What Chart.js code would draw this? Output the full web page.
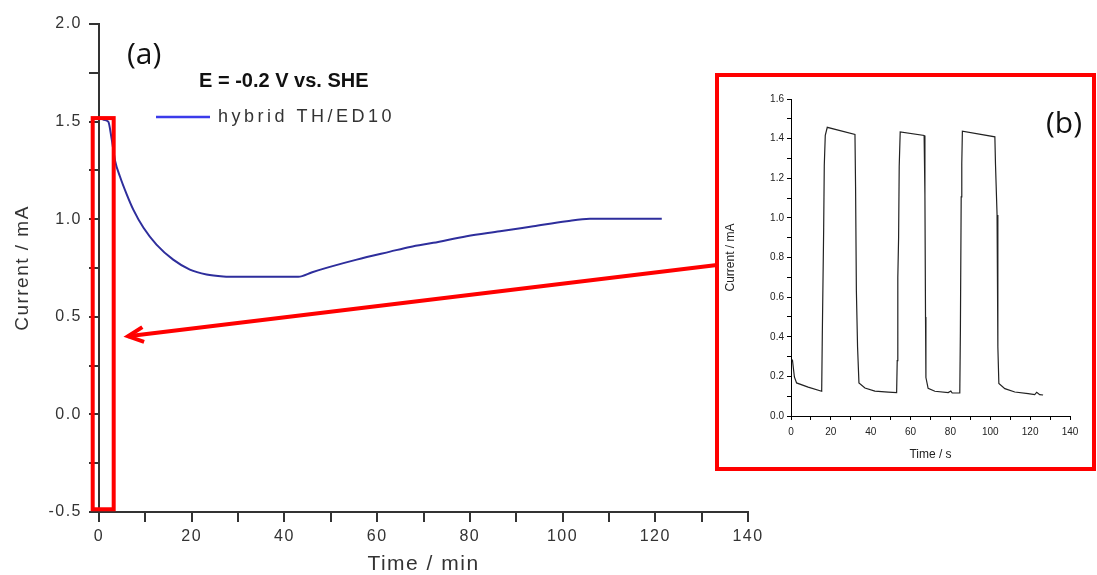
<!DOCTYPE html>
<html>
<head>
<meta charset="utf-8">
<script src="https://cdn.jsdelivr.net/npm/chart.js@4.4.1/dist/chart.umd.min.js"></script>
<style>
body { margin: 0; background: #fff; }
#wrap { position: relative; width: 1097px; height: 575px; overflow: hidden; }
#main { position: absolute; left: 0; top: 0; }
#insetBox { position: absolute; left: 715px; top: 73px; width: 373px; height: 390px; border: 4px solid #ff0000; background: #fff; }
#inset { display: block; }
</style>
</head>
<body>
<div id="wrap">
  <canvas id="main" width="1097" height="575"></canvas>
  <div id="insetBox"><canvas id="inset" width="373" height="390"></canvas></div>
</div>
<script>
// main curve (a): time in min, current in mA
const mainTime = [0.8, 2.0, 2.7, 3.5, 4.5, 6.0, 7.4, 9.6, 12.4, 16.0, 19.6, 23.2, 26.8, 30.0, 36.0, 43.0, 46.0, 50.0, 55.6, 62.8, 67.1, 72.1, 79.3, 86.5, 93.7, 100.9, 105.9, 121.4];
const mainCurrent = [1.51, 1.50, 1.416, 1.296, 1.22, 1.126, 1.049, 0.956, 0.87, 0.793, 0.742, 0.717, 0.707, 0.705, 0.705, 0.705, 0.728, 0.757, 0.793, 0.834, 0.858, 0.879, 0.913, 0.938, 0.964, 0.99, 1.002, 1.002];
const mainXLabels = [0, 20, 40, 60, 80, 100, 120, 140];
const mainYLabels = [-0.5, 0.0, 0.5, 1.0, 1.5, 2.0];

// inset (b): time in s, current in mA
const insetTime = [0.7, 1.7, 2.8, 8.6, 15.4, 15.7, 16.4, 16.7, 17.2, 18.2, 32.1, 32.4, 32.8, 33.4, 34.1, 37.1, 42.1, 48.8, 53.0, 53.3, 53.6, 54.0, 54.3, 54.8, 66.8, 67.2, 67.5, 67.7, 68.8, 72.2, 78.9, 80.2, 80.9, 84.7, 85.0, 85.4, 85.7, 86.0, 102.3, 102.6, 103.4, 103.8, 104.3, 107.3, 112.3, 119.0, 122.3, 123.3, 124.8, 126.5];
const insetCurrent = [0.285, 0.197, 0.167, 0.146, 0.125, 0.40, 0.95, 1.266, 1.417, 1.457, 1.421, 1.157, 0.635, 0.348, 0.167, 0.141, 0.126, 0.121, 0.118, 0.28, 0.70, 0.904, 1.26, 1.434, 1.416, 1.115, 0.50, 0.194, 0.14, 0.125, 0.118, 0.126, 0.116, 0.116, 0.43, 1.106, 1.275, 1.438, 1.409, 1.275, 1.014, 0.35, 0.164, 0.138, 0.121, 0.113, 0.108, 0.12, 0.108, 0.106];
const insetXLabels = [0, 20, 40, 60, 80, 100, 120, 140];
const insetYLabels = [0.0, 0.2, 0.4, 0.6, 0.8, 1.0, 1.2, 1.4, 1.6];

const condition = 'E = -0.2 V vs. SHE';
const seriesName = 'hybrid TH/ED10';
const fam = "'Liberation Sans', Arial, sans-serif";

Chart.defaults.font.family = fam;

function nearIn(list, v) {
    return list.some(a => Math.abs(a - v) < 1e-6);
}

// wide letter spacing like the scanned figure
const spacing = {
    id: 'spacing',
    beforeDraw(chart, args, opts) {
        chart.ctx.letterSpacing = opts.px || '0px';
    }
};

// texts, legend, red box and arrow of panel (a)
const mainNotes = {
    id: 'mainNotes',
    afterDraw(chart) {
        const {ctx, scales: {x, y}} = chart;
        ctx.save();
        ctx.textAlign = 'left';
        ctx.textBaseline = 'middle';
        ctx.letterSpacing = '0px';
        ctx.fillStyle = '#111';
        ctx.font = "30px 'Open Sans'";
        ctx.fillText('(a)', 127, 55);
        ctx.font = 'bold 20px ' + fam;
        ctx.fillText(condition, 199, 81);

        // legend
        const ds = chart.data.datasets[0];
        ctx.strokeStyle = '#3b3bea';
        ctx.lineWidth = 2.5;
        ctx.beginPath();
        ctx.moveTo(156, 117);
        ctx.lineTo(210, 117);
        ctx.stroke();
        ctx.letterSpacing = '3.5px';
        ctx.font = '18px ' + fam;
        ctx.fillStyle = '#333';
        ctx.fillText(ds.label, 218, 117);

        // red box round the first minutes
        ctx.strokeStyle = '#ff0000';
        ctx.lineWidth = 4;
        const bx0 = x.getPixelForValue(-1.36), bx1 = x.getPixelForValue(3.17);
        const by0 = y.getPixelForValue(1.518), by1 = y.getPixelForValue(-0.486);
        ctx.strokeRect(bx0, by0, bx1 - bx0, by1 - by0);

        // arrow from the inset
        const tx = x.getPixelForValue(6.26), ty = y.getPixelForValue(0.40);
        const sx = 717, sy = 265;
        ctx.beginPath();
        ctx.moveTo(sx, sy);
        ctx.lineTo(tx, ty);
        ctx.stroke();
        const ang = Math.atan2(sy - ty, sx - tx);
        ctx.beginPath();
        ctx.moveTo(tx + 17 * Math.cos(ang + 0.45), ty + 17 * Math.sin(ang + 0.45));
        ctx.lineTo(tx, ty);
        ctx.lineTo(tx + 17 * Math.cos(ang - 0.45), ty + 17 * Math.sin(ang - 0.45));
        ctx.stroke();
        ctx.restore();
    }
};

const insetNotes = {
    id: 'insetNotes',
    afterDraw(chart) {
        const ctx = chart.ctx;
        ctx.save();
        ctx.fillStyle = '#111';
        ctx.font = "30px 'Open Sans'";
        ctx.textAlign = 'center';
        ctx.textBaseline = 'middle';
        ctx.fillText('(b)', 345, 47);
        ctx.restore();
    }
};

const mainChart = new Chart(document.getElementById('main'), {
    type: 'line',
    data: {
        datasets: [{
            label: seriesName,
            data: mainTime.map((t, i) => ({x: t, y: mainCurrent[i]})),
            borderColor: '#2e2e9c',
            borderWidth: 2,
            pointRadius: 0,
            cubicInterpolationMode: 'monotone',
            fill: false
        }]
    },
    options: {
        responsive: false,
        animation: false,
        layout: {padding: {left: 0, top: 24, right: 349, bottom: 0}},
        plugins: {
            legend: {display: false},
            tooltip: {enabled: false},
            spacing: {px: '1.5px'}
        },
        scales: {
            x: {
                type: 'linear', min: 0, max: 140,
                border: {color: '#333', width: 2},
                grid: {drawOnChartArea: false, tickLength: 10, color: '#333', lineWidth: 2},
                ticks: {
                    stepSize: 10, autoSkip: false, maxRotation: 0, padding: 5,
                    font: {size: 16}, color: '#333',
                    callback: v => nearIn(mainXLabels, v) ? String(v) : ''
                },
                title: {display: true, text: 'Time / min', font: {size: 21}, color: '#333', padding: {top: 0, bottom: -2}},
                afterFit(s) { s.height = 63; s.paddingLeft = 0; s.paddingRight = 0; }
            },
            y: {
                min: -0.5, max: 2.0,
                border: {color: '#333', width: 2},
                grid: {drawOnChartArea: false, tickLength: 10, color: '#333', lineWidth: 2},
                ticks: {
                    stepSize: 0.25, autoSkip: false, padding: 7,
                    font: {size: 16}, color: '#333',
                    callback: v => nearIn(mainYLabels, v) ? v.toFixed(1) : ''
                },
                title: {display: true, text: 'Current / mA', font: {size: 19}, color: '#333', padding: {top: 11, bottom: 0}},
                afterFit(s) { s.width = 99; s.paddingTop = 0; s.paddingBottom = 0; }
            }
        }
    },
    plugins: [spacing, mainNotes]
});

const insetChart = new Chart(document.getElementById('inset'), {
    type: 'line',
    data: {
        datasets: [{
            label: seriesName,
            data: insetTime.map((t, i) => ({x: t, y: insetCurrent[i]})),
            borderColor: '#222',
            borderWidth: 1.2,
            pointRadius: 0,
            tension: 0,
            fill: false
        }]
    },
    options: {
        responsive: false,
        animation: false,
        layout: {padding: {left: 0, top: 22, right: 22, bottom: 0}},
        plugins: {legend: {display: false}, tooltip: {enabled: false}},
        scales: {
            x: {
                type: 'linear', min: 0, max: 140,
                border: {color: '#000', width: 1},
                grid: {drawOnChartArea: false, tickLength: 4, color: '#000'},
                ticks: {
                    stepSize: 10, autoSkip: false, maxRotation: 0, padding: 6,
                    font: {size: 10}, color: '#222',
                    callback: v => nearIn(insetXLabels, v) ? String(v) : ''
                },
                title: {display: true, text: 'Time / s', font: {size: 12}, color: '#222', padding: {top: 0, bottom: 5}},
                afterFit(s) { s.height = 51; s.paddingLeft = 0; s.paddingRight = 0; }
            },
            y: {
                min: 0, max: 1.6,
                border: {color: '#000', width: 1},
                grid: {drawOnChartArea: false, tickLength: 4, color: '#000'},
                ticks: {
                    stepSize: 0.1, autoSkip: false, padding: 3,
                    font: {size: 10}, color: '#222',
                    callback: v => nearIn(insetYLabels, v) ? v.toFixed(1) : ''
                },
                title: {display: true, text: 'Current / mA', font: {size: 12}, color: '#222', padding: {top: 4, bottom: 0}},
                afterFit(s) { s.width = 72; s.paddingTop = 0; s.paddingBottom = 0; }
            }
        }
    },
    plugins: [insetNotes]
});
</script>
</body>
</html>
